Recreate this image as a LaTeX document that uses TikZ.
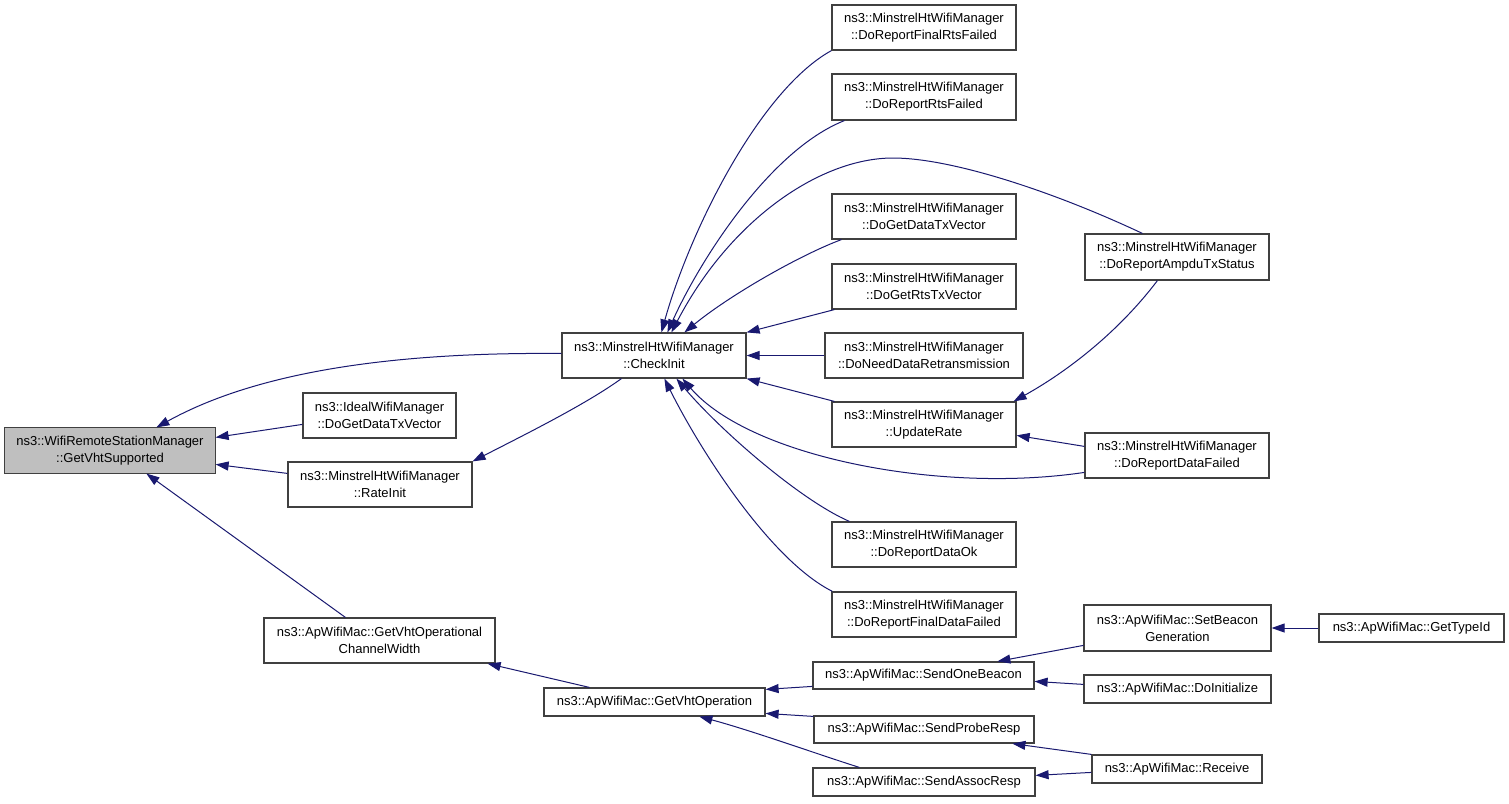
\documentclass[tikz,border=0pt]{standalone}
\usepackage{fontspec}
\setmainfont{Liberation Sans}
\usetikzlibrary{arrows.meta,calc}
\definecolor{edgeblue}{HTML}{191970}
\definecolor{boxgray}{HTML}{BFBFBF}
\definecolor{boxline}{HTML}{404040}
\newcommand{\bx}[6]{%
  \node[fbox,minimum width={(#4-#2)*1pt},minimum height={(#5-#3)*1pt}]
    (#1) at ({(#2+#4)/2},{(#3+#5)/2}) {#6};}
\begin{document}
\begin{tikzpicture}[x=1pt,y=-1pt,
  fbox/.style={draw=boxline,line width=1.2pt,fill=white,inner sep=0pt,align=center,
    font=\fontsize{13}{17}\selectfont},
  edge/.style={draw=edgeblue,line width=1pt,-{Triangle[length=13pt,width=9pt]}}]
\useasboundingbox[fill=white] (0,0) rectangle (1509,803);
% nodes
\bx{gvs}{5}{428}{215}{473}{ns3::WifiRemoteStationManager\\::GetVhtSupported}
\path[fill=boxgray,draw=boxline,line width=1.2pt] (gvs.north west) rectangle (gvs.south east);
\node[font=\fontsize{13}{17}\selectfont,align=center] at (gvs.center) {ns3::WifiRemoteStationManager\\::GetVhtSupported};
\bx{ideal}{303}{393}{456}{438}{ns3::IdealWifiManager\\::DoGetDataTxVector}
\bx{rateinit}{288}{462}{472}{507}{ns3::MinstrelHtWifiManager\\::RateInit}
\bx{chw}{264}{618}{495}{663}{ns3::ApWifiMac::GetVhtOperational\\ChannelWidth}
\bx{gvo}{544}{688}{765}{716}{ns3::ApWifiMac::GetVhtOperation}
\bx{checkinit}{562}{333}{746}{378}{ns3::MinstrelHtWifiManager\\::CheckInit}
\bx{frts}{832}{5}{1016}{50}{ns3::MinstrelHtWifiManager\\::DoReportFinalRtsFailed}
\bx{rts}{832}{74}{1016}{120}{ns3::MinstrelHtWifiManager\\::DoReportRtsFailed}
\bx{dgdtv}{832}{194}{1016}{239}{ns3::MinstrelHtWifiManager\\::DoGetDataTxVector}
\bx{dgrtv}{832}{264}{1016}{309}{ns3::MinstrelHtWifiManager\\::DoGetRtsTxVector}
\bx{dndr}{825}{333}{1023}{378}{ns3::MinstrelHtWifiManager\\::DoNeedDataRetransmission}
\bx{upd}{832}{402}{1016}{447}{ns3::MinstrelHtWifiManager\\::UpdateRate}
\bx{drok}{832}{522}{1016}{567}{ns3::MinstrelHtWifiManager\\::DoReportDataOk}
\bx{drfdf}{832}{592}{1016}{637}{ns3::MinstrelHtWifiManager\\::DoReportFinalDataFailed}
\bx{ampdu}{1085}{234}{1269}{280}{ns3::MinstrelHtWifiManager\\::DoReportAmpduTxStatus}
\bx{drdf}{1085}{433}{1269}{478}{ns3::MinstrelHtWifiManager\\::DoReportDataFailed}
\bx{sob}{813}{662}{1034}{689}{ns3::ApWifiMac::SendOneBeacon}
\bx{spr}{814}{716}{1034}{743}{ns3::ApWifiMac::SendProbeResp}
\bx{sar}{813}{768}{1035}{796}{ns3::ApWifiMac::SendAssocResp}
\bx{sbg}{1084}{605}{1271}{651}{ns3::ApWifiMac::SetBeacon\\Generation}
\bx{dinit}{1084}{675}{1271}{703}{ns3::ApWifiMac::DoInitialize}
\bx{gti}{1319}{614}{1504}{642}{ns3::ApWifiMac::GetTypeId}
\bx{recv}{1092}{755}{1262}{783}{ns3::ApWifiMac::Receive}
% edges
\draw[edge] ([yshift=2pt]checkinit.west) .. controls (400,352) and (260,370) .. ([xshift=152pt]gvs.north west);
\draw[edge] ([yshift=-32pt]ideal.north west) -- ([yshift=-10pt]gvs.north east);
\draw[edge] ([yshift=-12pt]rateinit.north west) -- ([yshift=-37pt]gvs.north east);
\draw[edge] ([xshift=82pt]chw.north west) -- ([xshift=142pt]gvs.south west);
\draw[edge] ([xshift=60pt]checkinit.south west) .. controls (585,405) and (520,437) .. (rateinit.north east);
\draw[edge] (frts.south west) .. controls (760,90) and (690,230) .. ([xshift=100pt]checkinit.north west);
\draw[edge] ([xshift=13pt]rts.south west) .. controls (770,150) and (700,260) .. ([xshift=106pt]checkinit.north west);
\draw[edge] ([xshift=58pt]ampdu.north west) .. controls (1050,190) and (950,158) .. (893,158)
   .. controls (820,158) and (730,220) .. ([xshift=110pt]checkinit.north west);
\draw[edge] ([xshift=10pt]dgdtv.south west) .. controls (800,255) and (730,295) .. ([xshift=123pt]checkinit.north west);
\draw[edge] ([xshift=3pt]dgrtv.south west) -- (checkinit.north east);
\draw[edge] (dndr.west) -- (checkinit.east);
\draw[edge] ([xshift=3pt]upd.north west) -- (checkinit.south east);
\draw[edge] ([yshift=-40pt]drdf.north west) .. controls (940,494) and (750,457) .. ([xshift=121pt]checkinit.south west);
\draw[edge] ([xshift=18pt]drok.north west) .. controls (800,500) and (720,430) .. ([xshift=115pt]checkinit.south west);
\draw[edge] ([xshift=1pt]drfdf.north west) .. controls (770,560) and (700,450) .. ([xshift=103pt]checkinit.south west);
\draw[edge] ([xshift=73pt]ampdu.south west) .. controls (1120,330) and (1070,370) .. ([xshift=-3pt]upd.north east);
\draw[edge] ([yshift=-14pt]drdf.north west) -- ([yshift=-34pt]upd.north east);
\draw[edge] ([xshift=46pt]gvo.north west) -- ([xshift=-8pt]chw.south east);
\draw[edge] ([yshift=-25pt]sob.north west) -- ([yshift=-2pt]gvo.north east);
\draw[edge] ([yshift=-1pt]spr.north west) -- ([yshift=-26pt]gvo.north east);
\draw[edge] ([xshift=47pt]sar.north west) .. controls (820,755) and (750,730) .. ([xshift=156pt]gvo.south west);
\draw[edge] ([yshift=-41pt]sbg.north west) -- ([xshift=185pt]sob.north west);
\draw[edge] ([yshift=-10pt]dinit.north west) -- ([yshift=-20pt]sob.north east);
\draw[edge] (gti.west) -- (sbg.east);
\draw[edge] (recv.north west) -- ([xshift=199pt]spr.south west);
\draw[edge] ([yshift=-18pt]recv.north west) -- ([yshift=-8pt]sar.north east);
\end{tikzpicture}
\end{document}
